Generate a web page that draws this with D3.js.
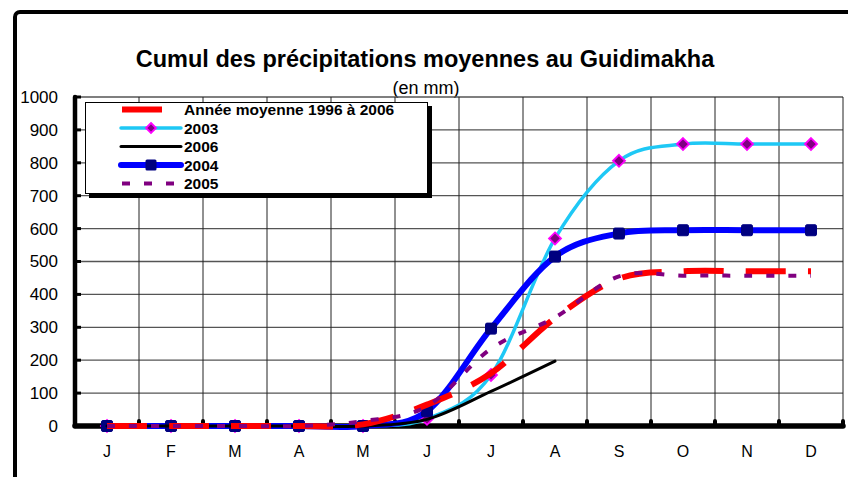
<!DOCTYPE html>
<html>
<head>
<meta charset="utf-8">
<script src="https://cdn.jsdelivr.net/npm/d3@7"></script>
<style>
  body { margin: 0; background: #fff; }
  svg { display: block; font-family: "Liberation Sans", Arial, sans-serif; }
</style>
</head>
<body>
<div id="chart"></div>
<script>
document.addEventListener("DOMContentLoaded", () => {

const width = 848;
const height = 477;

// month initials, one per point
const months = ["J", "F", "M", "A", "M", "J", "J", "A", "S", "O", "N", "D"];
const yTicks = [0, 100, 200, 300, 400, 500, 600, 700, 800, 900, 1000];

// cumulative rainfall, mm
const avg9606 = [0, 0, 0, 0, 5, 65, 160, 328, 448, 470, 470, 470];
const y2003 = [0, 0, 0, 0, 0, 22, 155, 570, 806, 857, 857, 857];
const y2006 = [0, 0, 0, 0, 0, 20, 105, 197];
const y2004 = [0, 0, 0, 0, 0, 45, 296, 515, 585, 595, 595, 595];
const y2005 = [0, 0, 0, 0, 15, 60, 235, 330, 455, 457, 457, 457];

const plotLeft = 75, plotRight = 843, plotTop = 97, plotBottom = 426;

const x = d3.scaleBand()
    .domain(d3.range(months.length))
    .range([plotLeft, plotRight])
    .padding(0);
const cx = i => x(i) + x.bandwidth() / 2;

const y = d3.scaleLinear()
    .domain([0, 1000])
    .range([plotBottom, plotTop]);

const svg = d3.select("#chart").append("svg")
    .attr("width", width)
    .attr("height", height);

// outer frame (runs off the right and bottom of the picture)
svg.append("rect")
    .attr("x", 15).attr("y", 12)
    .attr("width", 900).attr("height", 600)
    .attr("rx", 5)
    .attr("fill", "none")
    .attr("stroke", "#000")
    .attr("stroke-width", 4);

// title
svg.append("text")
    .attr("x", 425).attr("y", 67)
    .attr("text-anchor", "middle")
    .attr("font-size", 23.5)
    .attr("font-weight", "bold")
    .text("Cumul des précipitations moyennes au Guidimakha");
svg.append("text")
    .attr("x", 426).attr("y", 94)
    .attr("text-anchor", "middle")
    .attr("font-size", 18)
    .text("(en mm)");

// grid
svg.append("g")
    .selectAll("line")
    .data(yTicks.slice(1))
    .join("line")
    .attr("x1", plotLeft).attr("x2", plotRight)
    .attr("y1", d => y(d)).attr("y2", d => y(d))
    .attr("stroke", "#555")
    .attr("stroke-width", 1.3);

svg.append("g")
    .selectAll("line")
    .data(d3.range(1, months.length + 1))
    .join("line")
    .attr("x1", d => x(d - 1) + x.bandwidth()).attr("x2", d => x(d - 1) + x.bandwidth())
    .attr("y1", plotTop).attr("y2", plotBottom)
    .attr("stroke", "#222")
    .attr("stroke-width", 1);

// y axis
const yAxis = svg.append("g")
    .attr("transform", `translate(${plotLeft},0)`)
    .call(d3.axisLeft(y).tickValues(yTicks).tickFormat(d3.format("d")).tickSize(0).tickPadding(17));
yAxis.select(".domain").remove();
yAxis.selectAll("text")
    .attr("font-size", 17)
    .attr("font-family", "Liberation Sans, Arial, sans-serif")
    .attr("fill", "#000");
svg.append("g")
    .selectAll("line")
    .data(yTicks.slice(1))
    .join("line")
    .attr("x1", plotLeft).attr("x2", plotLeft + 6)
    .attr("y1", d => y(d)).attr("y2", d => y(d))
    .attr("stroke", "#000").attr("stroke-width", 3);
svg.append("line")
    .attr("x1", plotLeft).attr("x2", plotLeft)
    .attr("y1", plotTop).attr("y2", plotBottom)
    .attr("stroke", "#000")
    .attr("stroke-width", 4.5)
    .attr("stroke-linecap", "round");

// x axis
const xAxis = svg.append("g")
    .attr("transform", `translate(0,${plotBottom})`)
    .call(d3.axisBottom(x).tickFormat(i => months[i]).tickSize(0).tickPadding(20));
xAxis.select(".domain").remove();
xAxis.selectAll("text")
    .attr("font-size", 16)
    .attr("font-family", "Liberation Sans, Arial, sans-serif")
    .attr("fill", "#000");
svg.append("g")
    .selectAll("line")
    .data(d3.range(1, months.length + 1))
    .join("line")
    .attr("x1", d => x(d - 1) + x.bandwidth()).attr("x2", d => x(d - 1) + x.bandwidth())
    .attr("y1", plotBottom - 5).attr("y2", plotBottom)
    .attr("stroke", "#000").attr("stroke-width", 4)
    .attr("stroke-linecap", "round");
svg.append("line")
    .attr("x1", plotLeft).attr("x2", plotRight)
    .attr("y1", plotBottom).attr("y2", plotBottom)
    .attr("stroke", "#000")
    .attr("stroke-width", 5.5)
    .attr("stroke-linecap", "round");

// series
const line = d3.line()
    .x((d, i) => cx(i))
    .y(d => y(d))
    .curve(d3.curveCardinal.tension(0));

const series = [
    { name: "2003", data: y2003, color: "#1ec8f5", width: 3.5, dash: null, marker: "diamond" },
    { name: "2004", data: y2004, color: "#0000ff", width: 6, dash: null, marker: "square" },
    { name: "2006", data: y2006, color: "#000", width: 3, dash: null, marker: null },
    { name: "Année moyenne 1996 à 2006", data: avg9606, color: "#ff0000", width: 6, dash: "40 22", marker: null },
    { name: "2005", data: y2005, color: "#800080", width: 4, dash: "8 14", marker: null }
];

series.forEach(s => {
    svg.append("path")
        .datum(s.data)
        .attr("fill", "none")
        .attr("stroke", s.color)
        .attr("stroke-width", s.width)
        .attr("stroke-linecap", s.dash ? "butt" : "round")
        .attr("stroke-linejoin", "round")
        .attr("stroke-dasharray", s.dash)
        .attr("d", line);

    const g = svg.append("g");
    if (s.marker === "diamond") {
        g.selectAll("path")
            .data(s.data)
            .join("path")
            .attr("transform", (d, i) => `translate(${cx(i)},${y(d)})`)
            .attr("d", "M0,-6L6,0L0,6L-6,0Z")
            .attr("fill", "#800080")
            .attr("stroke", "#ff00ff")
            .attr("stroke-width", 1.8);
    } else if (s.marker === "square") {
        g.selectAll("rect")
            .data(s.data)
            .join("rect")
            .attr("x", (d, i) => cx(i) - 5.5)
            .attr("y", d => y(d) - 5.5)
            .attr("width", 11).attr("height", 11)
            .attr("rx", 1.5)
            .attr("fill", "#000080")
            .attr("stroke", "#000080");
    }
});

// legend
const legendOrder = ["Année moyenne 1996 à 2006", "2003", "2006", "2004", "2005"];
const lg = svg.append("g");
lg.append("rect")
    .attr("x", 89).attr("y", 106)
    .attr("width", 343).attr("height", 92)
    .attr("fill", "#000");
lg.append("rect")
    .attr("x", 85.5).attr("y", 102.5)
    .attr("width", 342).attr("height", 91)
    .attr("fill", "#fff")
    .attr("stroke", "#000")
    .attr("stroke-width", 1);

legendOrder.forEach((name, k) => {
    const s = series.find(d => d.name === name);
    const ly = 109.5 + k * 18.5;
    lg.append("line")
        .attr("x1", s.dash ? 122 : 121).attr("x2", s.dash ? (s.dash === "40 22" ? 162 : 182) : 181)
        .attr("y1", ly).attr("y2", ly)
        .attr("stroke", s.color)
        .attr("stroke-width", s.width)
        .attr("stroke-linecap", s.dash ? "butt" : "round")
        .attr("stroke-dasharray", s.dash === "8 14" ? s.dash : null);
    if (s.marker === "diamond") {
        lg.append("path")
            .attr("transform", `translate(151,${ly})`)
            .attr("d", "M0,-5L5,0L0,5L-5,0Z")
            .attr("fill", "#800080")
            .attr("stroke", "#ff00ff")
            .attr("stroke-width", 1.8);
    } else if (s.marker === "square") {
        lg.append("rect")
            .attr("x", 145.5).attr("y", ly - 5.5)
            .attr("width", 11).attr("height", 11)
            .attr("rx", 1.5)
            .attr("fill", "#000080");
    }
    lg.append("text")
        .attr("x", 184).attr("y", ly + 5.5)
        .attr("font-size", 15.5)
        .attr("font-weight", "bold")
        .text(name);
});

});
</script>
</body>
</html>
